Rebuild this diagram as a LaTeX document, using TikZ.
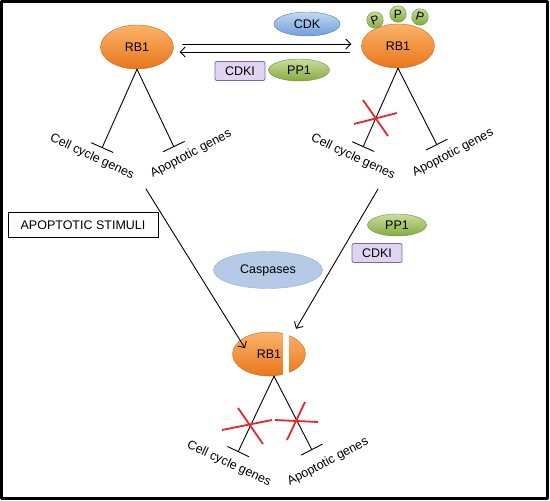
\documentclass[tikz,border=0pt]{standalone}
\usepackage{fontspec}
\setmainfont{Liberation Sans}
\usetikzlibrary{arrows.meta,shapes.geometric}
\definecolor{rbtop}{HTML}{FBB36B}
\definecolor{rbbot}{HTML}{E9761A}
\definecolor{rbedge}{HTML}{C8671C}
\definecolor{grtop}{HTML}{C9DDA0}
\definecolor{grbot}{HTML}{86AA3F}
\definecolor{gredge}{HTML}{6E8C33}
\definecolor{cdktop}{HTML}{C3D8F1}
\definecolor{cdkbot}{HTML}{6E9FDA}
\definecolor{cdkedge}{HTML}{4A7EBB}
\definecolor{lavfill}{HTML}{E0D5F0}
\definecolor{lavedge}{HTML}{8064A2}
\definecolor{casfill}{HTML}{B4CAE7}
\definecolor{casedge}{HTML}{8DADD6}
\definecolor{xred}{HTML}{E8252B}

\begin{document}
\begin{tikzpicture}[x=1pt,y=-1pt,line join=round,line cap=round,>={Straight Barb[length=5pt,width=10pt]}]
	\tikzset{txt/.style={font=\fontsize{12.5}{14}\selectfont},
		rb/.style={txt,ellipse,draw=rbedge,top color=rbtop,bottom color=rbbot,minimum width=73pt,minimum height=44pt,inner sep=0pt},
		grn/.style={txt,ellipse,draw=gredge,top color=grtop,bottom color=grbot,minimum width=61pt,minimum height=22pt,inner sep=0pt},
		lav/.style={txt,draw=lavedge,line width=0.8pt,fill=lavfill,rounded corners=2pt,minimum width=50pt,minimum height=19pt,inner sep=0pt},
		phos/.style={circle,draw=gredge,top color=grtop,bottom color=grbot,minimum size=16.5pt,inner sep=0pt,font=\fontsize{12}{13}\selectfont},
		gene/.style={txt,inner sep=0pt},
		inhib/.style={line width=0.9pt,-{Bar[width=24pt,line width=0.9pt]}},
		arr/.style={line width=0.9pt,->},
		cross/.style={xred,line width=1.8pt,line cap=butt}}
	\useasboundingbox (0,0) rectangle (550,501);
	\draw[line width=3pt] (1.5,1.5) rectangle (547.5,498.5);
	% top row
	\node[rb] (rbl) at (137,47) {RB1};
	\node[rb] (rbr) at (398,46) {RB1};
	\node[phos,rotate=20] (p1) at (375,20) {P};
	\node[phos] (p2) at (398,14) {P};
	\node[phos,rotate=-15] (p3) at (420,17) {P};
	\node[txt,ellipse,draw=cdkedge,top color=cdktop,bottom color=cdkbot,minimum width=66pt,minimum height=24pt,inner sep=0pt] (cdk) at (307,24) {CDK};
	\node[lav] (cdki1) at (240,71) {CDKI};
	\node[grn] (pp11) at (299,70) {PP1};
	\draw[arr] ([shift={(9,-3)}]rbl.east) -- ([shift={(-10,-2)}]rbr.west);
	\draw[arr] ([shift={(-12,6)}]rbr.west) -- ([shift={(6,5)}]rbl.east);
	% genes
	\coordinate (lcb) at (102,148); \coordinate (lab) at (174,147);
	\coordinate (rcb) at (363,147); \coordinate (rab) at (437,145);
	\draw[inhib] (rbl.south) -- (lcb);
	\draw[inhib] (rbl.south) -- (lab);
	\draw[inhib] (rbr.south) -- (rcb);
	\draw[inhib] (rbr.south) -- (rab);
	\node[gene,rotate=-25] (lcc) at (92,157) {Cell cycle genes};
	\node[gene,rotate=28] (lap) at (191,154) {Apoptotic genes};
	\node[gene,rotate=-25] (rcc) at (353,157) {Cell cycle genes};
	\node[gene,rotate=28] (rap) at (453,153) {Apoptotic genes};
	\draw[cross] (363,100) -- (388,136) (354,124) -- (397,113);
	% middle
	\node[txt,draw,line width=0.9pt,minimum width=150pt,minimum height=25pt] (stim) at (83,225) {APOPTOTIC STIMULI};
	\node[txt,ellipse,draw=casedge,fill=casfill,minimum width=109pt,minimum height=37pt,inner sep=0pt] (casp) at (268,270) {Caspases};
	\node[grn,minimum width=59pt] (pp12) at (397,225) {PP1};
	\node[lav] (cdki2) at (377,253) {CDKI};
	% bottom
	\node[rb] (rbb) at (269,354) {RB1};
	\fill[white] (283,322) rectangle (289,377);
	\coordinate (ls) at (146,189); \coordinate (rs) at (378,189);
	\draw[arr] (ls) -- ([shift={(-24,-28)}]rbb.south);
	\draw[arr] (rs) -- ([shift={(27,-3)}]rbb.north);
	\coordinate (bcb) at (238,452); \coordinate (bab) at (312,450);
	\draw[inhib] ([xshift=5pt]rbb.south) -- (bcb);
	\draw[inhib] ([xshift=5pt]rbb.south) -- (bab);
	\node[gene,rotate=-25] (bcc) at (229,464) {Cell cycle genes};
	\node[gene,rotate=28] (bap) at (328,462) {Apoptotic genes};
	\draw[cross] (238,408) -- (263,444) (222,430) -- (272,420);
	\draw[cross] (275,420) -- (318,422) (305,402) -- (287,440);
\end{tikzpicture}
\end{document}
